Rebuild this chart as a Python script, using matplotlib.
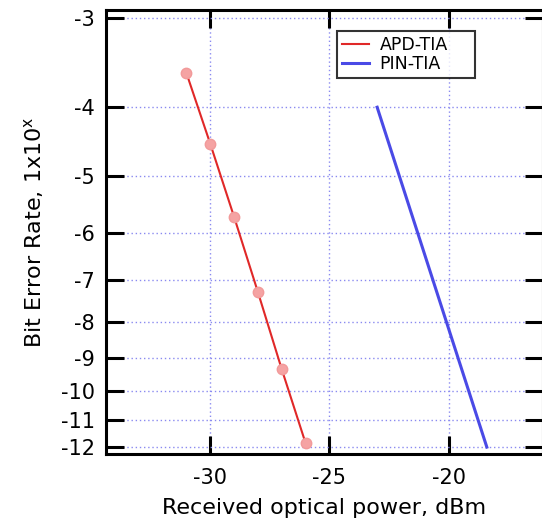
import numpy as np
import matplotlib
matplotlib.use("Agg")
import matplotlib.pyplot as plt

plt.rcParams['font.family'] = ['DejaVu Sans']
plt.rcParams['axes.unicode_minus'] = False

# data: received power (dBm) vs BER exponent
apd_power = [-31, -30, -29, -28, -27, -26]
apd_exp = [-3.58, -4.5, -5.7, -7.27, -9.33, -11.85]
pin_power = [-23.0, -18.4]
pin_exp = [-4.0, -12.0]

x_ticks = [-30, -25, -20]
y_ticks = [-3, -4, -5, -6, -7, -8, -9, -10, -11, -12]


def fwd(y):
    y = np.asarray(y, dtype=float)
    return -np.log10(np.clip(-y, 1e-6, None))


def inv(v):
    return -10 ** (-np.asarray(v, dtype=float))


fig = plt.figure(figsize=(5.42, 5.30), dpi=100)
ax = fig.add_axes([0.1956, 0.1434, 0.806, 0.838])

ax.set_yscale('function', functions=(fwd, inv))

ax.plot(apd_power, apd_exp, color='#e02828', linewidth=1.5, label='APD-TIA', zorder=3)
ax.plot(apd_power, apd_exp, linestyle='none', marker='o', markersize=7.5,
        markerfacecolor='#f5a3a3', markeredgecolor='#f29a9a', zorder=4)
ax.plot(pin_power, pin_exp, color='#4a4ae6', linewidth=2.2, label='PIN-TIA', zorder=3)

ax.set_xlim(-34.37, -16.05)
ax.set_ylim(-12.27, -2.92)

ax.set_xticks(x_ticks)
ax.set_xticklabels([str(t) for t in x_ticks])
ax.set_yticks(y_ticks)
ax.set_yticklabels([str(t) for t in y_ticks])
ax.minorticks_off()

ax.grid(True, color='#8a8af0', linestyle=(0, (1, 2)), linewidth=1.0)
ax.set_axisbelow(True)

for s in ax.spines.values():
    s.set_linewidth(2.2)
ax.tick_params(axis='both', which='major', direction='in', length=13, width=2.2,
               top=True, right=True, labelsize=15, pad=8)
ax.tick_params(axis='x', pad=10)

ax.set_xlabel('Received optical power, dBm', fontsize=16, labelpad=7)
ax.set_ylabel('Bit Error Rate, 1x10$^{\\mathregular{x}}$', fontsize=16, labelpad=11)

# legend box roughly at pixels x 337-475, y 31-74
leg = ax.legend(loc='upper left', bbox_to_anchor=(337 / 542, 1 - 74 / 530, 138 / 542, 43 / 530),
                bbox_transform=fig.transFigure, mode='expand', borderaxespad=0,
                fontsize=12.5, frameon=True, fancybox=False, edgecolor='black',
                handlelength=1.55, handletextpad=0.6, borderpad=0.3, labelspacing=0.05)
leg.get_frame().set_linewidth(1.5)

fig.savefig('out.png', dpi=100)
